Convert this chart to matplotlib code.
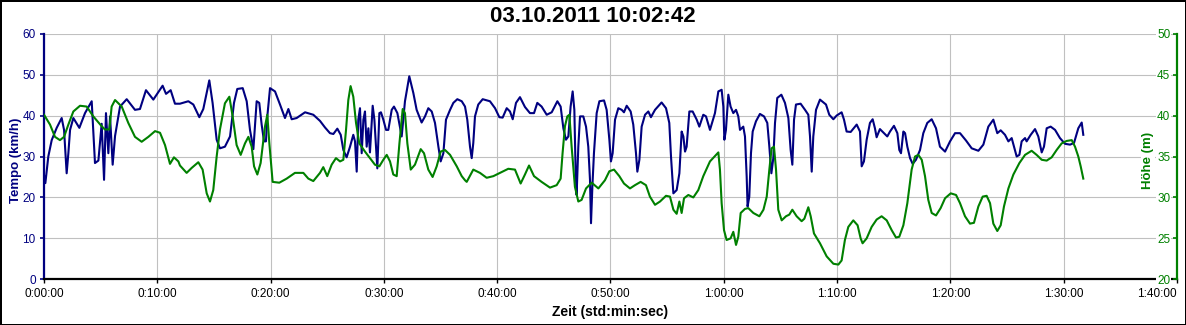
import matplotlib
matplotlib.use('Agg')
import matplotlib.pyplot as plt
from matplotlib.ticker import FuncFormatter

plt.rcParams['font.family'] = ['Liberation Sans', 'DejaVu Sans']

# Zeit in Minuten / Tempo in km/h
tempo_t = [0.0, 0.12, 0.38, 0.68, 1.12, 1.56, 1.77, 2.0, 2.15, 2.3, 2.59, 3.12, 3.62, 4.21, 4.5,
           4.8, 5.09, 5.3, 5.47, 5.68, 5.83, 6.06, 6.27, 6.71, 7.3, 8.03, 8.47, 9.0, 9.65, 10.47,
           10.77, 11.18, 11.56, 12.0, 12.74, 13.18, 13.71, 14.06, 14.59, 14.88, 15.24, 15.53,
           15.97, 16.42, 16.77, 17.06, 17.54, 17.89, 18.18, 18.48, 18.77, 19.0, 19.21, 19.42,
           19.59, 19.71, 19.95, 20.39, 20.83, 21.27, 21.57, 21.86, 22.3, 23.04, 23.77, 24.36,
           24.8, 25.24, 25.54, 25.89, 26.19, 26.42, 26.71, 27.01, 27.3, 27.45, 27.6, 27.74,
           27.89, 28.04, 28.19, 28.33, 28.48, 28.63, 28.77, 29.01, 29.16, 29.3, 29.42, 29.6,
           29.74, 29.95, 30.19, 30.39, 30.69, 30.89, 31.19, 31.57, 31.86, 32.24, 32.6, 32.89,
           33.33, 33.63, 33.92, 34.22, 34.51, 34.81, 35.01, 35.25, 35.48, 35.84, 36.13, 36.48,
           36.87, 37.16, 37.36, 37.6, 37.75, 37.89, 38.04, 38.33, 38.72, 39.36, 39.81, 40.19,
           40.48, 40.84, 41.13, 41.37, 41.66, 42.01, 42.45, 42.89, 43.25, 43.54, 43.92, 44.37,
           44.81, 45.31, 45.6, 45.84, 46.07, 46.28, 46.48, 46.66, 46.81, 46.92, 47.01, 47.16,
           47.31, 47.6, 47.84, 48.04, 48.19, 48.28, 48.4, 48.54, 48.78, 49.02, 49.43, 49.66,
           49.9, 50.04, 50.19, 50.4, 50.69, 50.99, 51.19, 51.43, 51.78, 52.01, 52.25, 52.37,
           52.55, 52.75, 53.05, 53.34, 53.57, 53.93, 54.51, 54.9, 55.19, 55.34, 55.55, 55.84,
           56.08, 56.28, 56.43, 56.58, 56.72, 56.96, 57.25, 57.61, 57.84, 58.19, 58.43, 58.78,
           59.22, 59.52, 59.81, 59.96, 60.05, 60.19, 60.4, 60.6, 60.84, 61.08, 61.28, 61.43,
           61.72, 61.87, 62.02, 62.1, 62.25, 62.4, 62.55, 62.84, 63.19, 63.55, 63.84, 64.02,
           64.2, 64.37, 64.52, 64.72, 65.08, 65.4, 65.7, 65.9, 66.05, 66.2, 66.37, 66.78,
           67.17, 67.46, 67.61, 67.76, 67.9, 68.14, 68.49, 69.02, 69.31, 69.67, 69.96, 70.4,
           70.61, 70.84, 71.2, 71.73, 72.02, 72.17, 72.37, 72.61, 72.9, 73.14, 73.34, 73.49,
           73.78, 74.14, 74.43, 74.67, 75.02, 75.32, 75.49, 75.64, 75.85, 76.0, 76.2, 76.44,
           76.67, 76.96, 77.32, 77.61, 77.96, 78.35, 78.73, 79.08, 79.53, 79.97, 80.41, 80.85,
           81.38, 81.88, 82.47, 82.91, 83.35, 83.79, 84.14, 84.44, 84.82, 85.12, 85.41, 85.62,
           85.85, 86.09, 86.29, 86.59, 86.73, 87.09, 87.47, 87.76, 88.06, 88.26, 88.5, 88.85,
           89.24, 89.67, 90.12, 90.56, 90.91, 91.29, 91.59, 91.73]
tempo = [25.5, 23.5, 30.0, 34.0, 37.0, 39.4, 36.5, 25.9, 30.8, 36.5, 39.4, 37.0, 40.6, 43.5, 28.4,
         29.0, 38.0, 24.3, 40.6, 30.8, 39.8, 28.0, 35.0, 42.2, 44.0, 41.4, 41.6, 46.2, 43.9, 47.3,
         45.3, 46.2, 42.9, 42.9, 43.5, 42.7, 39.6, 41.6, 48.6, 43.1, 34.1, 32.0,
         32.4, 34.9, 43.1, 46.5, 46.7, 43.5, 36.5, 31.8, 43.5, 43.1, 37.8, 33.7,
         33.7, 39.8, 46.7, 45.9, 42.7, 39.4, 41.6, 39.1, 39.4, 40.8, 40.2, 38.7,
         37.1, 35.7, 35.5, 36.8, 35.3, 31.6, 29.8, 32.4, 35.3, 33.7, 26.3, 39.0,
         41.8, 30.8, 39.0, 41.0, 32.4, 36.9, 31.0, 42.4, 39.0, 32.4, 27.1, 40.6,
         40.8, 39.0, 36.5, 36.5, 41.4, 42.2, 40.6, 34.9, 43.5, 49.6, 45.5, 41.4,
         38.3, 39.8, 41.8, 41.0, 38.2, 32.4, 28.8, 30.8, 39.0, 41.4, 43.1, 44.0,
         43.5, 42.2, 39.0, 32.4, 29.6, 33.3, 39.8, 42.7, 44.0, 43.5, 41.8, 39.6,
         39.5, 41.8, 41.0, 39.1, 43.1, 44.5, 42.1, 40.6, 40.6, 43.1, 42.2, 40.2,
         40.8, 43.5, 42.2, 36.9, 34.1, 34.9, 42.2, 45.9, 41.4, 26.7, 20.6, 32.4,
         39.8, 39.8, 37.3, 32.4, 24.3, 13.7, 22.6, 30.8, 40.6, 43.5, 43.7, 41.4,
         34.1, 28.8, 30.8, 39.0, 41.8, 41.4, 40.8, 42.4, 41.0, 37.8, 30.8, 26.3,
         29.2, 37.3, 40.2, 41.0, 39.6, 41.4, 43.2, 41.8, 38.2, 30.0, 21.0, 21.8,
         25.9, 36.1, 34.9, 31.2, 32.4, 41.0, 41.0, 39.0, 37.3, 40.2, 39.8, 36.5,
         40.6, 45.9, 46.3, 42.2, 34.1, 36.5, 45.1, 42.2, 40.6, 41.4, 39.8, 36.5,
         37.3, 34.9, 25.1, 17.8, 20.2, 30.8, 36.1, 38.6, 40.4, 39.8, 38.2, 32.4,
         25.9, 29.6, 38.2, 44.3, 45.1, 43.1, 39.4, 31.6, 28.0, 39.0, 42.7, 42.9,
         41.4, 40.2, 34.9, 26.3, 34.9, 41.4, 43.9, 42.7, 40.2, 39.1, 40.0, 40.8,
         39.0, 36.1, 36.0, 37.8, 36.1, 27.6, 28.8, 34.1, 38.2, 39.1, 36.9, 34.7,
         36.7, 35.7, 34.9, 36.1, 37.5, 35.7, 31.6, 30.8, 36.1, 35.7, 32.4, 29.6,
         28.2, 29.2, 31.6, 35.7, 38.2, 39.1, 36.9, 32.4, 31.2, 33.7, 35.7, 35.7,
         33.9, 32.0, 31.4, 32.9, 37.3, 39.0, 35.7, 36.4, 35.3, 33.7, 34.5, 32.4,
         30.0, 30.4, 33.7, 34.5, 33.7, 35.3, 36.7, 34.9, 31.0, 32.4, 36.9, 37.3,
         36.5, 34.5, 33.1, 32.9, 33.3, 36.9, 38.3, 35.3]

# Zeit in Minuten / Höhe in m
hoehe_t = [0.0, 0.53, 0.97, 1.41, 1.77, 2.15, 2.59, 3.18, 3.77, 4.35, 5.09, 5.38, 5.77, 5.97,
           6.27, 6.86, 7.44, 8.03, 8.62, 9.21, 9.8, 10.24, 10.68, 11.12, 11.47, 11.86, 12.0,
           12.59, 13.03, 13.62, 14.0, 14.36, 14.65, 14.94, 15.24, 15.53, 15.97, 16.36, 16.65,
           17.0, 17.36, 17.74, 18.04, 18.33, 18.54, 18.83, 19.12, 19.51, 19.71, 19.89, 20.18,
           20.77, 21.42, 22.15, 22.89, 23.33, 23.77, 24.36, 24.65, 25.0, 25.39, 25.77, 26.13,
           26.42, 26.66, 26.86, 27.06, 27.3, 27.54, 27.83, 28.33, 28.77, 29.21, 29.6, 29.95,
           30.25, 30.54, 30.83, 31.13, 31.37, 31.66, 31.86, 32.07, 32.37, 32.74, 33.25, 33.54,
           33.92, 34.3, 34.66, 35.01, 35.39, 35.84, 36.43, 36.87, 37.16, 37.31, 37.89, 38.48,
           39.07, 39.66, 40.25, 40.98, 41.57, 42.07, 42.45, 42.81, 43.25, 43.92, 44.66, 45.25,
           45.6, 45.77, 45.98, 46.19, 46.37, 46.57, 46.86, 47.16, 47.45, 47.84, 48.34, 48.93,
           49.51, 49.9, 50.31, 50.78, 51.19, 51.72, 52.16, 52.66, 53.13, 53.48, 53.93, 54.37,
           54.9, 55.25, 55.55, 55.84, 56.08, 56.28, 56.49, 56.87, 57.31, 57.75, 58.19, 58.78,
           59.52, 59.66, 59.81, 60.02, 60.25, 60.6, 60.84, 61.08, 61.28, 61.49, 61.87, 62.16,
           62.61, 63.14, 63.5, 63.79, 64.02, 64.22, 64.43, 64.61, 64.81, 65.11, 65.49, 65.78,
           66.05, 66.43, 66.87, 67.11, 67.46, 67.67, 67.96, 68.49, 69.08, 69.67, 70.11, 70.4,
           70.69, 70.99, 71.43, 71.81, 72.08, 72.25, 72.61, 73.05, 73.49, 73.93, 74.38, 74.82,
           75.2, 75.49, 75.85, 76.2, 76.58, 76.88, 77.17, 77.47, 77.76, 78.05, 78.35, 78.73,
           79.14, 79.53, 80.03, 80.5, 80.85, 81.29, 81.73, 82.08, 82.47, 82.85, 83.2, 83.5,
           83.79, 84.14, 84.44, 84.73, 85.12, 85.56, 86.09, 86.59, 87.17, 87.61, 88.06, 88.5,
           88.94, 89.38, 89.82, 90.26, 90.71, 91.0, 91.29, 91.5, 91.73]
hoehe = [40.1, 38.9, 37.4, 37.0, 37.4, 38.9, 40.5, 41.2, 41.1, 39.9, 38.7, 38.3, 38.3, 41.1,
         41.9, 41.1, 39.1, 37.4, 36.8, 37.4, 38.1, 37.9, 36.4, 34.1, 34.9, 34.4, 33.9,
         33.0, 33.6, 34.3, 33.4, 30.5, 29.5, 30.9, 35.0, 38.3, 41.5, 42.3, 39.9,
         36.4, 35.2, 36.6, 37.4, 36.2, 33.8, 32.8, 34.2, 38.7, 40.1, 36.6, 31.9,
         31.8, 32.3, 33.0, 33.0, 32.3, 32.0, 33.0, 33.7, 32.6, 34.0, 34.8, 34.4,
         34.6, 38.3, 41.9, 43.6, 42.3, 39.1, 36.6, 35.6, 34.8, 34.0, 33.8, 34.6,
         35.2, 34.4, 32.8, 32.6, 36.6, 40.8, 40.3, 36.6, 33.4, 34.0, 35.9, 35.4,
         33.4, 32.5, 33.8, 35.6, 35.8, 35.2, 33.8, 32.6, 32.1, 31.9, 33.4, 33.0,
         32.4, 32.6, 33.0, 33.5, 33.4, 31.7, 32.8, 33.9, 32.6, 31.9, 31.2, 31.5,
         32.3, 35.4, 38.7, 39.9, 40.1, 36.2, 31.3, 29.5, 29.7, 31.1, 31.8, 31.1,
         32.1, 33.2, 33.4, 32.6, 31.7, 31.1, 31.5, 31.9, 31.5, 30.1, 29.1, 29.5,
         30.2, 30.1, 28.5, 28.0, 29.5, 28.1, 29.9, 30.3, 30.0, 30.9, 32.6, 34.4,
         35.5, 33.4, 29.3, 26.0, 24.8, 25.0, 25.8, 24.2, 25.2, 28.1, 28.6, 28.7,
         28.1, 27.7, 28.5, 30.1, 33.4, 36.0, 36.2, 33.4, 28.5, 27.2, 27.7, 27.9,
         28.5, 27.7, 27.1, 27.4, 28.8, 27.7, 25.6, 24.4, 22.8, 21.9, 21.8, 22.3,
         24.8, 26.4, 27.2, 26.6, 25.0, 24.4, 25.0, 26.4, 27.3, 27.7, 27.2, 26.0,
         25.1, 25.2, 26.6, 29.3, 33.4, 35.0, 35.2, 34.6, 32.6, 29.7, 28.1, 27.8,
         28.7, 29.9, 30.5, 30.3, 29.3, 27.7, 26.8, 26.9, 28.9, 30.1, 30.2, 29.3,
         26.8, 25.9, 26.6, 28.9, 31.1, 32.8, 34.2, 35.2, 35.7, 35.2, 34.6, 34.5,
         34.9, 35.8, 36.6, 36.9, 37.0, 36.2, 35.0, 33.8, 32.3]

x_ticks = list(range(0, 101, 10))
tempo_ticks = list(range(0, 61, 10))
hoehe_ticks = list(range(20, 51, 5))

NAVY = '#000080'
GREEN = '#008000'


def fmt_zeit(m, pos):
    """Minuten -> h:mm:ss"""
    m = int(round(m))
    return f'{m // 60}:{m % 60:02d}:00'


fig = plt.figure(figsize=(11.86, 3.25), dpi=100, edgecolor='black', linewidth=2)
ax = fig.add_axes([0.0371, 0.1406, 0.9553, 0.7557])
ax2 = ax.twinx()

ax.plot(tempo_t, tempo, color=NAVY, lw=1.5)
ax2.plot(hoehe_t, hoehe, color=GREEN, lw=1.5)

ax.set_xlim(0, 100)
ax.set_ylim(0, 60)
ax2.set_ylim(20, 50)
ax.set_xticks(x_ticks)
ax.xaxis.set_major_formatter(FuncFormatter(fmt_zeit))
ax.set_yticks(tempo_ticks)
ax2.set_yticks(hoehe_ticks)

ax.set_axisbelow(True)
ax.grid(True, color='#c0c0c0', lw=0.8)

# Achsen
for s in ['top', 'right']:
    ax.spines[s].set_visible(False)
for s in ['top', 'left', 'bottom']:
    ax2.spines[s].set_visible(False)
ax.spines['left'].set_color(NAVY)
ax.spines['left'].set_linewidth(1.6)
ax.spines['bottom'].set_color('black')
ax.spines['bottom'].set_linewidth(1.6)
ax2.spines['right'].set_color(GREEN)
ax2.spines['right'].set_linewidth(1.6)

ax.tick_params(axis='x', direction='out', length=3, width=1, color='black',
               labelsize=8.5, pad=3)
ax.tick_params(axis='y', direction='out', length=3, width=1.2, color=NAVY,
               labelcolor=NAVY, labelsize=8.5, pad=3)
ax2.tick_params(axis='y', direction='in', length=3, width=1.2, color=GREEN,
                labelcolor=GREEN, labelsize=8.5, pad=-4.8)
for lab in ax2.get_yticklabels():
    lab.set_ha('right')
    lab.set_bbox(dict(facecolor='white', edgecolor='none', pad=0.5))
# letzte Zeitmarke bleibt im Bild
ax.get_xticklabels()[-1].set_ha('right')

# Beschriftungen
fig.text(0.5, 1 - 17 / 325, '03.10.2011 10:02:42', ha='center', va='center',
         fontsize=16, fontweight='bold')
ax.set_xlabel('Zeit (std:min:sec)', fontsize=10, fontweight='bold')
ax.xaxis.set_label_coords(0.5, -0.105)
ax.set_ylabel('Tempo (km/h)', fontsize=9.5, fontweight='bold', color=NAVY)
ax.yaxis.set_label_coords(-0.0194, 0.486)
ax2.text(0.9744, 0.486, 'Höhe (m)', transform=ax2.transAxes, rotation=90,
         ha='center', va='center', fontsize=9.5, fontweight='bold', color=GREEN,
         bbox=dict(facecolor='white', edgecolor='none', pad=1))

fig.savefig('out.png', dpi=100)
